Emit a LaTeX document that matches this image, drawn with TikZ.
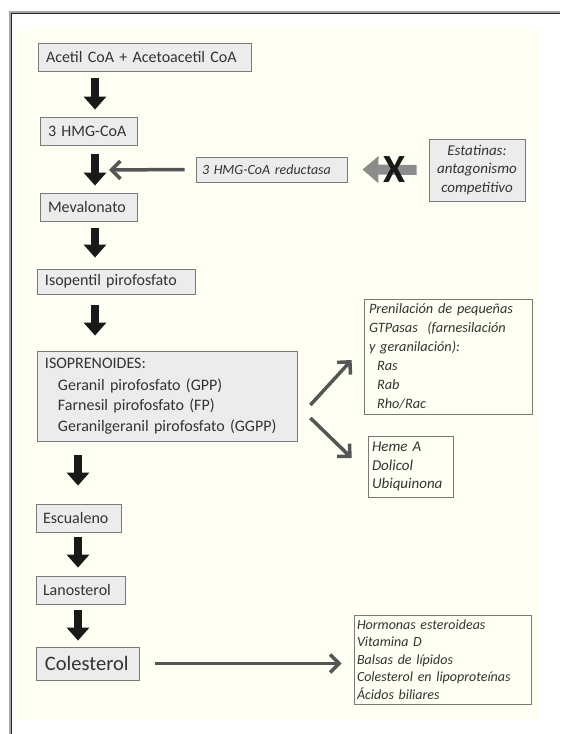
\documentclass[tikz,border=0pt]{standalone}
\usepackage{fontspec}
\setmainfont{Carlito}
\usetikzlibrary{arrows.meta}
\hyphenpenalty=10000
\exhyphenpenalty=10000
\definecolor{cream}{HTML}{FFFFF3}
\definecolor{boxgray}{HTML}{ECECEC}
\definecolor{boxline}{HTML}{7A7A7A}
\definecolor{txt}{HTML}{333333}
\definecolor{garrow}{HTML}{555555}
\definecolor{lgarrow}{HTML}{8C8C8C}
\tikzset{
  lbox/.style={draw=boxline, fill=boxgray, line width=0.8pt, inner xsep=8pt, inner ysep=0pt,
    align=left, text=txt, font=\fontsize{16}{20}\selectfont},
  rbox/.style={draw=boxline, fill=cream, line width=0.8pt, inner xsep=5pt, inner ysep=0pt,
    align=left, text=txt, font=\itshape\fontsize{15}{19}\selectfont},
  bigarr/.style={draw=black!90, line width=8pt, -{Triangle[width=22pt,length=13pt]}},
  thinarr/.style={draw=garrow, line width=3.5pt, -{Straight Barb[width=18pt,length=9pt]}},
  fatgray/.style={draw=lgarrow, line width=10pt, -{Triangle[width=26pt,length=16pt]}}
}
\begin{document}
\begin{tikzpicture}[x=1pt,y=-1pt]
\useasboundingbox (0,0) rectangle (560,734);
\fill[white] (0,0) rectangle (560,734);
\fill[cream] (17,28) rectangle (540,720);
\draw[black!85, line width=0.7pt, double=black!35, double distance=1.6pt] (10,734) -- (10,12) -- (560,12);

% left column
\node[lbox, text width=197pt, minimum height=28pt] (acetil) at (144.5,57) {Acetil CoA + Acetoacetil CoA};
\node[lbox, text width=81pt, minimum height=28pt] (hmg) at (88.5,131) {3 HMG-CoA};
\node[lbox, text width=81pt, minimum height=28pt] (mev) at (88.5,207) {Mevalonato};
\node[lbox, text width=142pt, minimum height=25pt] (iso) at (116,281.5) {Isopentil pirofosfato};
\node[lbox, text width=244pt, minimum height=90pt, font=\fontsize{16}{20.5}\selectfont] (isop) at (167,396)
  {ISOPRENOIDES:\\[1pt]
   \hspace*{13pt}Geranil pirofosfato (GPP)\\
   \hspace*{13pt}Farnesil pirofosfato (FP)\\
   \hspace*{13pt}Geranilgeranil pirofosfato (GGPP)};
\node[lbox, inner xsep=7pt, text width=71pt, minimum height=28pt] (esc) at (78.5,518) {Escualeno};
\node[lbox, inner xsep=7pt, text width=75pt, minimum height=28pt] (lan) at (80.5,590) {Lanosterol};
\node[lbox, inner xsep=9pt, text width=85pt, minimum height=33pt, font=\fontsize{20.5}{24}\selectfont] (col) at (87.5,663.5) {Colesterol};

% right column
\node[lbox, font=\itshape\fontsize{14}{18}\selectfont, inner xsep=6pt, text width=139pt, minimum height=25pt] (red) at (271.5,169.5) {3 HMG-CoA reductasa};
\node[rbox, fill=boxgray, align=center, inner xsep=3pt, text width=90pt, minimum height=62pt, font=\itshape\fontsize{15}{18.5}\selectfont] (est) at (477,170)
  {Estatinas:\\antagonismo\\competitivo};
\node[rbox, inner xsep=5pt, text width=158pt, minimum height=115pt, font=\itshape\fontsize{14.3}{19}\selectfont] (pren) at (448,356.5)
  {Prenilación de pequeñas\\GTPasas\ \ (farnesilación\\y geranilación):\\
   \hspace*{8pt}Ras\\\hspace*{8pt}Rab\\\hspace*{8pt}Rho/Rac};
\node[rbox, inner xsep=4pt, text width=77pt, minimum height=61pt, font=\itshape\fontsize{15}{18.5}\selectfont] (heme) at (410.5,466.5)
  {Heme A\\Dolicol\\Ubiquinona};
\node[rbox, inner xsep=3pt, text width=171pt, minimum height=89pt, font=\itshape\fontsize{14}{17.5}\selectfont] (horm) at (442.5,659.5)
  {Hormonas esteroideas\\Vitamina D\\Balsas de lípidos\\Colesterol en lipoproteínas\\Ácidos biliares};

% vertical pathway arrows
\coordinate (cA) at (95,0);
\coordinate (cB) at (78,0);
\draw[bigarr] ([yshift=-7pt]acetil.south -| cA) -- ([yshift=7pt]hmg.north -| cA);
\draw[bigarr] ([yshift=-9pt]hmg.south -| cA) -- ([yshift=7pt]mev.north -| cA);
\draw[bigarr] ([yshift=-7pt]mev.south -| cA) -- ([yshift=11pt]iso.north -| cA);
\draw[bigarr] ([yshift=-11pt]iso.south -| cA) -- ([yshift=15pt]isop.north -| cA);
\draw[bigarr] ([yshift=-14pt]isop.south -| cB) -- ([yshift=18pt]esc.north -| cB);
\draw[bigarr] ([yshift=-5pt]esc.south -| cB) -- ([yshift=8pt]lan.north -| cB);
\draw[bigarr] ([yshift=-6pt]lan.south -| cB) -- ([yshift=6pt]col.north -| cB);

% enzyme arrow
\coordinate (inh) at (109,170);
\draw[thinarr] ([xshift=-11pt]red.west) -- (inh);
% statin arrow, blocked
\draw[fatgray] ([xshift=-12pt]est.west) -- ([xshift=15pt]red.east);
\node[font=\bfseries\fontsize{40}{40}\selectfont, text=black!90, inner sep=0pt] (xmark) at (395,170) {X};

% branching arrows
\draw[thinarr] ([shift={(13pt,-9pt)}]isop.east) -- ([shift={(-12pt,-3.5pt)}]pren.west);
\draw[thinarr] ([shift={(13pt,-22pt)}]isop.east) -- ([shift={(-16pt,8.5pt)}]heme.west);
\draw[thinarr] ([xshift=16pt]col.east) -- ([xshift=-12pt]col.east -| horm.west);
\end{tikzpicture}
\end{document}
